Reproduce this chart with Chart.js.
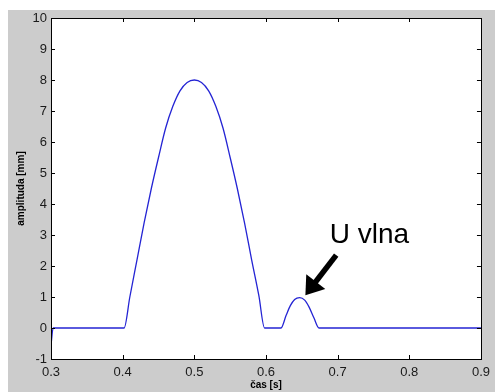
<!DOCTYPE html>
<html>
<head>
<meta charset="utf-8">
<script src="https://cdn.jsdelivr.net/npm/chart.js@4/dist/chart.umd.min.js"></script>
<style>
  html, body { margin: 0; padding: 0; background: #ffffff; }
  #wrap { position: relative; width: 496px; height: 392px; }
</style>
</head>
<body>
<div id="wrap"><canvas id="waveChart" width="496" height="392"></canvas></div>
<script>
// Values (time in s, amplitude in mm)
const timeSec = [
  0.300, 0.303, 0.402,
  0.410, 0.420, 0.430, 0.440, 0.450, 0.460, 0.470, 0.480, 0.490, 0.500,
  0.510, 0.520, 0.530, 0.540, 0.550, 0.560, 0.570, 0.580, 0.590, 0.598,
  0.621, 0.628, 0.634, 0.640, 0.647, 0.654, 0.660, 0.667, 0.674, 0.900
];
const amplitudeMm = [
  -0.55, 0, 0,
  1.0, 2.2, 3.4, 4.5, 5.5, 6.45, 7.15, 7.65, 7.92, 8.0,
  7.92, 7.65, 7.15, 6.45, 5.5, 4.5, 3.4, 2.2, 1.05, 0,
  0, 0.4, 0.72, 0.92, 0.98, 0.9, 0.68, 0.32, 0, 0
];
const xTicks = [0.3, 0.4, 0.5, 0.6, 0.7, 0.8, 0.9];
const yTicks = [-1, 0, 1, 2, 3, 4, 5, 6, 7, 8, 9, 10];

const annotationText = 'U vlna';
const arrowTail = { x: 0.698, y: 2.35 };
const arrowTip = { x: 0.655, y: 1.06 };
const textAnchor = { x: 0.689, y: 2.74 };

const FONT = 'Arial, "Liberation Sans", sans-serif';

// figure background (MATLAB grey) and white axes box
const backdropPlugin = {
  id: 'backdrop',
  beforeDraw(chart) {
    const { ctx, chartArea: a } = chart;
    ctx.save();
    ctx.fillStyle = '#ffffff';
    ctx.fillRect(0, 0, chart.width, chart.height);
    ctx.fillStyle = '#cccccc';
    ctx.fillRect(8, 10, 487, chart.height - 10);
    ctx.fillStyle = '#ffffff';
    ctx.fillRect(a.left, a.top, a.right - a.left, a.bottom - a.top);
    ctx.restore();
  }
};

// box border with inward tick marks on all four sides
const boxTicksPlugin = {
  id: 'boxTicks',
  afterDraw(chart) {
    const { ctx, chartArea: a, scales } = chart;
    const len = 4;
    ctx.save();
    ctx.strokeStyle = '#000000';
    ctx.lineWidth = 1;
    ctx.beginPath();
    scales.x.ticks.forEach(t => {
      const px = Math.round(scales.x.getPixelForValue(t.value)) + 0.5;
      ctx.moveTo(px, a.bottom); ctx.lineTo(px, a.bottom - len);
      ctx.moveTo(px, a.top); ctx.lineTo(px, a.top + len);
    });
    scales.y.ticks.forEach(t => {
      const py = Math.round(scales.y.getPixelForValue(t.value)) + 0.5;
      ctx.moveTo(a.left, py); ctx.lineTo(a.left + len, py);
      ctx.moveTo(a.right, py); ctx.lineTo(a.right - len, py);
    });
    ctx.stroke();
    ctx.strokeRect(Math.round(a.left) + 0.5, Math.round(a.top) + 0.5,
      Math.round(a.right - a.left), Math.round(a.bottom - a.top));
    ctx.restore();
  }
};

// "U vlna" label with the black arrow
const annotationPlugin = {
  id: 'uWave',
  afterDatasetsDraw(chart) {
    const { ctx, scales } = chart;
    const tx = scales.x.getPixelForValue(arrowTail.x);
    const ty = scales.y.getPixelForValue(arrowTail.y);
    const hx = scales.x.getPixelForValue(arrowTip.x);
    const hy = scales.y.getPixelForValue(arrowTip.y);
    const dx = hx - tx, dy = hy - ty;
    const L = Math.hypot(dx, dy);
    const ux = dx / L, uy = dy / L;
    const nx = -uy, ny = ux;
    const headLen = 17, headHalf = 12;
    const bx = hx - ux * headLen, by = hy - uy * headLen;

    ctx.save();
    ctx.strokeStyle = '#000000';
    ctx.fillStyle = '#000000';
    ctx.lineWidth = 5.5;
    ctx.beginPath();
    ctx.moveTo(tx, ty);
    ctx.lineTo(bx + ux * 2, by + uy * 2);
    ctx.stroke();
    ctx.beginPath();
    ctx.moveTo(hx, hy);
    ctx.lineTo(bx + nx * headHalf, by + ny * headHalf);
    ctx.lineTo(bx - nx * headHalf, by - ny * headHalf);
    ctx.closePath();
    ctx.fill();

    ctx.font = '28px ' + FONT;
    ctx.textAlign = 'left';
    ctx.textBaseline = 'alphabetic';
    ctx.fillText(annotationText,
      scales.x.getPixelForValue(textAnchor.x),
      scales.y.getPixelForValue(textAnchor.y));
    ctx.restore();
  }
};

const points = timeSec.map((t, i) => ({ x: t, y: amplitudeMm[i] }));

new Chart(document.getElementById('waveChart'), {
  type: 'line',
  data: {
    datasets: [{
      data: points,
      borderColor: '#2424d4',
      borderWidth: 1.3,
      pointRadius: 0,
      fill: false,
      cubicInterpolationMode: 'monotone'
    }]
  },
  options: {
    responsive: false,
    animation: false,
    layout: { padding: { left: 0, top: 18, right: 14, bottom: 0 } },
    plugins: {
      legend: { display: false },
      tooltip: { enabled: false }
    },
    scales: {
      x: {
        type: 'linear',
        min: 0.3,
        max: 0.9,
        afterFit: s => { s.height = 33; },
        afterBuildTicks: s => { s.ticks = xTicks.map(v => ({ value: v })); },
        grid: { display: false, drawTicks: false },
        border: { display: false },
        ticks: {
          padding: 6,
          color: '#1a1a1a',
          font: { family: FONT, size: 13 },
          maxRotation: 0,
          callback: v => v.toFixed(1)
        },
        title: {
          display: true,
          text: 'čas [s]',
          color: '#000000',
          font: { family: FONT, size: 10, weight: 'bold' },
          padding: { top: 0, bottom: 1 }
        }
      },
      y: {
        type: 'linear',
        min: -1,
        max: 10,
        afterFit: s => { s.width = 51; },
        afterBuildTicks: s => { s.ticks = yTicks.map(v => ({ value: v })); },
        grid: { display: false, drawTicks: false },
        border: { display: false },
        ticks: {
          padding: 4,
          color: '#1a1a1a',
          font: { family: FONT, size: 13 }
        },
        title: {
          display: true,
          text: 'amplituda [mm]',
          color: '#000000',
          font: { family: FONT, size: 10, weight: 'bold' },
          padding: { top: 15, bottom: 0 }
        }
      }
    }
  },
  plugins: [backdropPlugin, boxTicksPlugin, annotationPlugin]
});
</script>
</body>
</html>
